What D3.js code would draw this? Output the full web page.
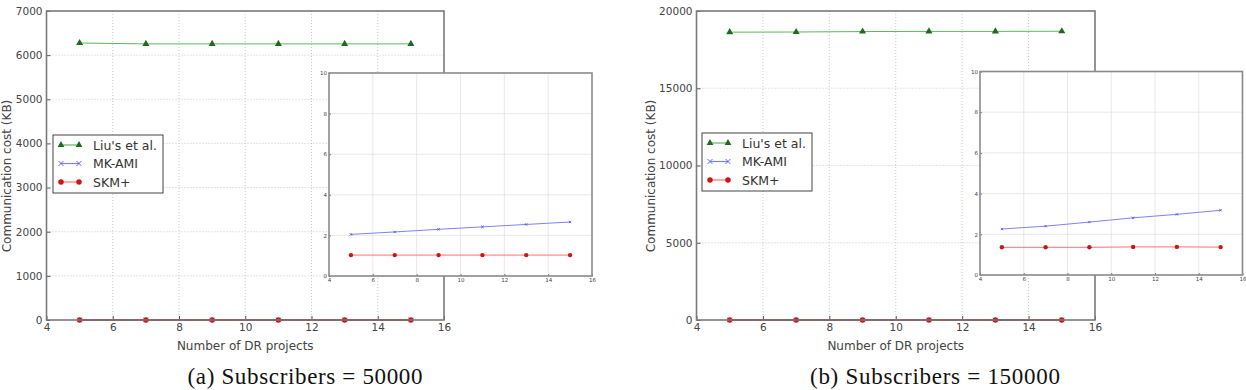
<!DOCTYPE html>
<html>
<head>
<meta charset="utf-8">
<script src="https://cdn.jsdelivr.net/npm/d3@7"></script>
<style>
  body { margin: 0; background: #fff; }
  svg { display: block; }
  .tick text { font-family: "DejaVu Sans", sans-serif; fill: #444; }
  .caption { font-family: "Liberation Serif", "Times New Roman", serif; }
</style>
</head>
<body>
<svg id="chart" width="1246" height="390"></svg>
<script>
"use strict";

// DR project counts (x values, shared by both panels)
var projects = [5, 7, 9, 11, 13, 15];

// (a) Subscribers = 50000, communication cost in KB
var liuA = [6275, 6255, 6255, 6255, 6255, 6255];
var mkA  = [2.05, 2.17, 2.30, 2.42, 2.54, 2.66];
var skmA = [1.03, 1.03, 1.03, 1.03, 1.03, 1.03];

// (b) Subscribers = 150000
var liuB = [18630, 18640, 18670, 18680, 18680, 18690];
var mkB  = [2.26, 2.40, 2.60, 2.81, 2.98, 3.18];
var skmB = [1.36, 1.36, 1.36, 1.38, 1.38, 1.37];

var seriesNames = ["Liu's et al.", "MK-AMI", "SKM+"];
var xTicks = [4, 6, 8, 10, 12, 14, 16];
var yTicksA = [0, 1000, 2000, 3000, 4000, 5000, 6000, 7000];
var yTicksB = [0, 5000, 10000, 15000, 20000];
var insetTicks = [0, 2, 4, 6, 8, 10];
var captions = ["(a) Subscribers = 50000", "(b) Subscribers = 150000"];

var svg = d3.select("#chart");

var colors = {
	liu: { line: "#5cb85c", mark: "#1e6b1e" },
	mk:  { line: "#8080ff", mark: "#5555ee" },
	skm: { line: "#ff7070", mark: "#cc1515" }
};

// draw markers of one series
function drawMarkers(g, kind, pts, x, y, size) {
	if (kind == "liu") {
		g.selectAll(null).data(pts).enter().append("path")
			.attr("d", d3.symbol().type(d3.symbolTriangle).size(size * 3.6))
			.attr("transform", function (d) { return "translate(" + x(d[0]) + "," + y(d[1]) + ")"; })
			.attr("fill", colors.liu.mark);
	} else if (kind == "mk") {
		var h = size * 0.45;
		g.selectAll(null).data(pts).enter().append("path")
			.attr("d", function (d) {
				var cx = x(d[0]), cy = y(d[1]);
				return "M" + (cx - h) + "," + (cy - h) + "L" + (cx + h) + "," + (cy + h) +
					"M" + (cx - h) + "," + (cy + h) + "L" + (cx + h) + "," + (cy - h);
			})
			.attr("stroke", colors.mk.mark).attr("stroke-width", 0.9);
	} else {
		g.selectAll(null).data(pts).enter().append("circle")
			.attr("cx", function (d) { return x(d[0]); })
			.attr("cy", function (d) { return y(d[1]); })
			.attr("r", size * 0.5)
			.attr("fill", colors.skm.mark);
	}
}

function drawSeries(g, kind, vals, x, y, size, lw) {
	var pts = projects.map(function (p, i) { return [p, vals[i]]; });
	g.append("path")
		.datum(pts)
		.attr("fill", "none")
		.attr("stroke", colors[kind].line)
		.attr("stroke-width", lw)
		.attr("d", d3.line().x(function (d) { return x(d[0]); }).y(function (d) { return y(d[1]); }));
	drawMarkers(g, kind, pts, x, y, size);
}

function frame(g, x, y, color, width) {
	g.append("rect")
		.attr("x", x.range()[0]).attr("y", y.range()[1])
		.attr("width", x.range()[1] - x.range()[0])
		.attr("height", y.range()[0] - y.range()[1])
		.attr("fill", "none").attr("stroke", color).attr("stroke-width", width);
}

function drawPanel(p) {
	var g = svg.append("g");
	var x = d3.scaleLinear().domain([4, 16]).range([p.left, p.right]);
	var y = d3.scaleLinear().domain([0, p.yMax]).range([p.bottom, p.top]);

	// dotted grid
	var grid = g.append("g").attr("stroke", "#bdbdbd").attr("stroke-width", 0.8).attr("stroke-dasharray", "1,2");
	xTicks.slice(1, -1).forEach(function (t) {
		grid.append("line").attr("x1", x(t)).attr("x2", x(t)).attr("y1", p.top).attr("y2", p.bottom);
	});
	p.yTicks.slice(1, -1).forEach(function (t) {
		grid.append("line").attr("x1", p.left).attr("x2", p.right).attr("y1", y(t)).attr("y2", y(t));
	});

	g.append("g").attr("transform", "translate(0," + p.bottom + ")")
		.call(d3.axisBottom(x).tickValues(xTicks).tickFormat(d3.format("d")).tickSize(-4).tickPadding(4))
		.call(function (a) {
			a.select(".domain").remove();
			a.selectAll(".tick line").attr("stroke", "#555");
			a.selectAll(".tick text").attr("font-size", 10.5);
		});
	g.append("g").attr("transform", "translate(" + p.left + ",0)")
		.call(d3.axisLeft(y).tickValues(p.yTicks).tickFormat(d3.format("d")).tickSize(-4).tickPadding(4))
		.call(function (a) {
			a.select(".domain").remove();
			a.selectAll(".tick line").attr("stroke", "#555");
			a.selectAll(".tick text").attr("font-size", 10.5);
		});

	drawSeries(g, "liu", p.liu, x, y, 6, 1);
	drawSeries(g, "mk", p.mk, x, y, 5, 1);
	drawSeries(g, "skm", p.skm, x, y, 5.5, 1.6);
	// overlapping lines at zero look dark red
	g.append("line").attr("x1", x(5)).attr("x2", x(15)).attr("y1", y(0)).attr("y2", y(0))
		.attr("stroke", "#a01010").attr("stroke-width", 1.6);

	frame(g, x, y, "#7a7a7a", 1.6);

	// axis labels
	g.append("text")
		.attr("x", (p.left + p.right) / 2).attr("y", 349.5)
		.attr("text-anchor", "middle")
		.attr("font-family", "DejaVu Sans, sans-serif").attr("font-size", 12)
		.attr("fill", "#444")
		.text("Number of DR projects");
	g.append("text")
		.attr("transform", "translate(" + p.ylabX + ",176) rotate(-90)")
		.attr("text-anchor", "middle")
		.attr("font-family", "DejaVu Sans, sans-serif").attr("font-size", 12)
		.attr("fill", "#444")
		.text("Communication cost (KB)");

	// caption
	g.append("text")
		.attr("class", "caption")
		.attr("x", p.capX).attr("y", 384)
		.attr("text-anchor", "middle")
		.attr("font-size", 23)
		.attr("textLength", p.capW).attr("lengthAdjust", "spacing")
		.attr("fill", "#111")
		.text(p.caption);

	// legend
	var lg = g.append("g").attr("transform", "translate(" + p.legX + "," + p.legY + ")");
	lg.append("rect").attr("width", 110).attr("height", 58)
		.attr("fill", "#fff").attr("stroke", "#444").attr("stroke-width", 1);
	["liu", "mk", "skm"].forEach(function (k, i) {
		var yy = 10 + i * 18.5;
		var lx = d3.scaleLinear().domain([0, 1]).range([8, 26]);
		var ly = function () { return yy; };
		lg.append("line").attr("x1", 8).attr("x2", 26).attr("y1", yy).attr("y2", yy)
			.attr("stroke", colors[k].line).attr("stroke-width", 1.2);
		drawMarkers(lg, k, [[0, 0], [1, 0]], lx, ly, 5.5);
		lg.append("text").attr("x", 40).attr("y", yy + 4.5)
			.attr("font-family", "DejaVu Sans, sans-serif").attr("font-size", 12.5)
			.attr("fill", "#333")
			.text(seriesNames[i]);
	});

	// inset
	var ig = g.append("g");
	var ix = d3.scaleLinear().domain([4, 16]).range([p.inL, p.inR]);
	var iy = d3.scaleLinear().domain([0, 10]).range([p.inB, p.inT]);
	ig.append("rect").attr("x", p.inL).attr("y", p.inT)
		.attr("width", p.inR - p.inL).attr("height", p.inB - p.inT).attr("fill", "#fff");
	var ig2 = ig.append("g").attr("stroke", "#e2e2e2").attr("stroke-width", 0.8);
	xTicks.slice(1, -1).forEach(function (t) {
		ig2.append("line").attr("x1", ix(t)).attr("x2", ix(t)).attr("y1", p.inT).attr("y2", p.inB);
	});
	insetTicks.slice(1, -1).forEach(function (t) {
		ig2.append("line").attr("x1", p.inL).attr("x2", p.inR).attr("y1", iy(t)).attr("y2", iy(t));
	});
	ig.append("g").attr("transform", "translate(0," + p.inB + ")")
		.call(d3.axisBottom(ix).tickValues(xTicks).tickSize(-2).tickPadding(2))
		.call(function (a) {
			a.select(".domain").remove();
			a.selectAll(".tick line").attr("stroke", "#777");
			a.selectAll(".tick text").attr("font-size", 5.5);
		});
	ig.append("g").attr("transform", "translate(" + p.inL + ",0)")
		.call(d3.axisLeft(iy).tickValues(insetTicks).tickSize(-2).tickPadding(2))
		.call(function (a) {
			a.select(".domain").remove();
			a.selectAll(".tick line").attr("stroke", "#777");
			a.selectAll(".tick text").attr("font-size", 5.5);
		});
	drawSeries(ig, "mk", p.mk, ix, iy, 2.6, 1);
	drawSeries(ig, "skm", p.skm, ix, iy, 4.4, 1);
	frame(ig, ix, iy, "#8a8a8a", 1.6);
}

drawPanel({
	left: 46.5, right: 444, top: 11, bottom: 320, yMax: 7000, yTicks: yTicksA,
	liu: liuA, mk: mkA, skm: skmA,
	ylabX: 11, capX: 305, capW: 235, caption: captions[0],
	legX: 53, legY: 135,
	inL: 329, inR: 592, inT: 73, inB: 276
});

drawPanel({
	left: 696.5, right: 1095, top: 11, bottom: 320, yMax: 20000, yTicks: yTicksB,
	liu: liuB, mk: mkB, skm: skmB,
	ylabX: 655, capX: 935, capW: 250, caption: captions[1],
	legX: 702, legY: 133,
	inL: 980, inR: 1242.5, inT: 71.5, inB: 275
});
</script>
</body>
</html>
